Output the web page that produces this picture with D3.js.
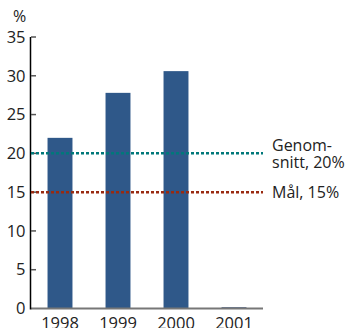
<!DOCTYPE html>
<html><head><meta charset="utf-8">
<script src="https://cdn.jsdelivr.net/npm/d3@7"></script>
<style>
html,body{margin:0;padding:0;background:#fff;}
svg{display:block;font-family:"Open Sans",sans-serif;}
</style></head>
<body><svg id="c" width="345" height="328"></svg>
<script>
const years = ["1998","1999","2000","2001"];
const values = [22.0, 27.8, 30.6, 0.15];
const yTicks = [0,5,10,15,20,25,30,35];
const refValues = [20, 15];
const refColors = ["#00787a","#9a2a10"];
const refLabels = [["Genom-","snitt, 20%"],["Mål, 15%"]];

const svg = d3.select("#c");
const x = d3.scaleBand().domain(years).range([31,263]).paddingInner(0.57).paddingOuter(0.285);
const y = d3.scaleLinear().domain([0,35]).range([308.5,37]);

// bars
svg.selectAll("rect.bar").data(values).join("rect")
  .attr("x",(d,i)=>x(years[i])).attr("width",x.bandwidth())
  .attr("y",d=>y(d)).attr("height",d=>y(0)-y(d))
  .attr("fill",(d,i)=> i===3 ? "#1f3a66" : "#2f5889");

// x axis line
svg.append("line").attr("x1",31).attr("x2",263).attr("y1",y(0)).attr("y2",y(0))
  .attr("stroke","#777").attr("stroke-width",2);

// y axis
const ya = d3.axisLeft(y).tickValues(yTicks).tickSize(0).tickPadding(5);
const g = svg.append("g").attr("transform","translate(30.5,0)").call(ya);
g.select(".domain").remove();
g.selectAll("text").attr("font-size",16.5).attr("fill","#222").attr("font-family","Open Sans");
svg.append("line").attr("x1",30.5).attr("x2",30.5).attr("y1",y(35)).attr("y2",y(0)+1)
  .attr("stroke","#000").attr("stroke-width",1.5);
svg.selectAll("line.tk").data(yTicks.filter(t=>t>0)).join("line").attr("class","tk")
  .attr("x1",31).attr("x2",36).attr("y1",d=>y(d)).attr("y2",d=>y(d))
  .attr("stroke","#555").attr("stroke-width",1.5);

// x axis labels
const xa = d3.axisBottom(x).tickSize(0).tickPadding(8.5);
const gx = svg.append("g").attr("transform",`translate(0,${y(0)})`).call(xa);
gx.select(".domain").remove();
gx.selectAll("text").attr("font-size",16.5).attr("fill","#222").attr("font-family","Open Sans");

// unit
svg.append("text").attr("x",13).attr("y",22).attr("font-size",16).attr("fill","#222").text("%");

// reference lines
svg.selectAll("line.ref").data(refValues).join("line").attr("class","ref")
  .attr("x1",31).attr("x2",263).attr("y1",d=>y(d)).attr("y2",d=>y(d))
  .attr("stroke",(d,i)=>refColors[i]).attr("stroke-width",2.5).attr("stroke-dasharray","3,2");

// labels
const lab = svg.append("g").attr("font-size",16).attr("fill","#222");
lab.append("text").attr("x",272).attr("y",150.5).text(refLabels[0][0]);
lab.append("text").attr("x",272).attr("y",168).text(refLabels[0][1]);
lab.append("text").attr("x",272).attr("y",y(refValues[1])+5.5).text(refLabels[1][0]);
</script></body></html>
